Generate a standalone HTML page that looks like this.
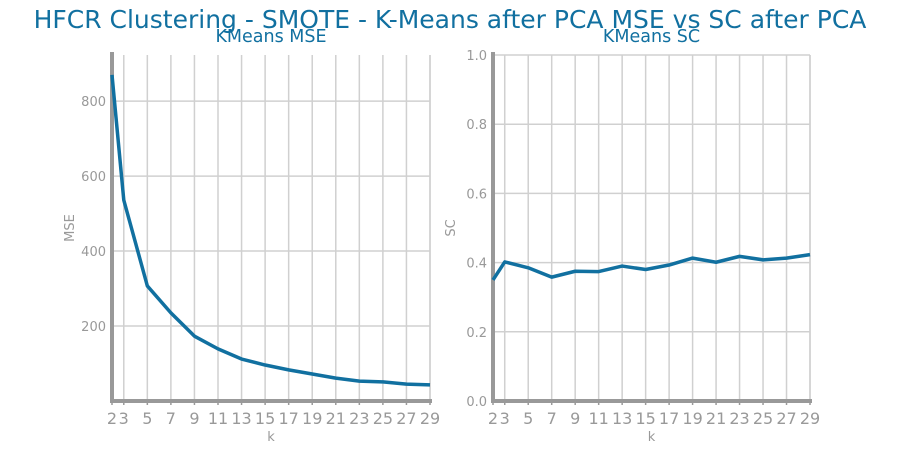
<!DOCTYPE html>
<html><head><meta charset="utf-8"><style>
body{margin:0;background:#fff;}
svg{display:block;font-family:"DejaVu Sans","Liberation Sans",sans-serif;}
</style></head><body>
<svg id="c" width="900" height="450">
<text x="450" y="28" text-anchor="middle" font-size="25" fill="#1170a0">HFCR Clustering - SMOTE - K-Means after PCA MSE vs SC after PCA</text>
</svg>
<script>
const kValues=[2,3,5,7,9,11,13,15,17,19,21,23,25,27,29];
const mseValues=[870,536,307,235,173,139,112,96,83,72,61,53,51,45,43];
const scValues=[0.35,0.402,0.385,0.358,0.375,0.374,0.39,0.38,0.393,0.413,0.401,0.418,0.408,0.413,0.423];
const xTicks=[2,3,5,7,9,11,13,15,17,19,21,23,25,27,29];
const mseTicks=[200,400,600,800];
const scTicks=[0.0,0.2,0.4,0.6,0.8,1.0];
const NS='http://www.w3.org/2000/svg';
const svg=document.getElementById('c');
function mk(t,a,p){const e=document.createElementNS(NS,t);for(const k in a)e.setAttribute(k,a[k]);(p||svg).appendChild(e);return e;}
function panel(o){
  const g=mk('g',{});
  
  
  const x=k=>o.x0+(k-2)/(27)*(o.x1-o.x0);
  const y=v=>o.y1-(v-o.ymin)/(o.ymax-o.ymin)*(o.y1-o.y0);
  xTicks.forEach(k=>{const l=mk('line',{x1:x(k),x2:x(k),y1:o.y0,y2:o.y1,stroke:'#d0d0d0','stroke-width':1.5},g);
    
    const t=mk('text',{x:x(k),y:o.y1+23,'text-anchor':'middle','font-size':16,fill:'#999'},g);t.textContent=k;
    
    mk('line',{x1:x(k),x2:x(k),y1:o.y1,y2:o.y1+4,stroke:'#999','stroke-width':1.5},g);});
  o.ticks.forEach(v=>{const l=mk('line',{x1:o.x0,x2:o.x1,y1:y(v),y2:y(v),stroke:'#d0d0d0','stroke-width':1.5},g);
    
    const t=mk('text',{x:o.x0-6,y:y(v)+5,'text-anchor':'end','font-size':13,fill:'#999'},g);t.textContent=o.fmt(v);
    });
  mk('line',{x1:o.x1,x2:o.x1,y1:o.y0,y2:o.y1,stroke:'#d0d0d0','stroke-width':1.5},g);
  const ax=mk('line',{x1:o.x0,x2:o.x0,y1:o.y0-3,y2:o.y1+2,stroke:'#999','stroke-width':4},g);
  
  const bx=mk('line',{x1:o.x0,x2:o.x1+2,y1:o.y1,y2:o.y1,stroke:'#999','stroke-width':4},g);
  
  const p=mk('polyline',{points:kValues.map((k,i)=>x(k)+','+y(o.data[i])).join(' '),fill:'none',stroke:'#1170a0','stroke-width':3.5,'stroke-linejoin':'round'},g);
  
  const tt=mk('text',{x:(o.x0+o.x1)/2,y:42,'text-anchor':'middle','font-size':17.5,fill:'#1170a0'},g);tt.textContent=o.title;
  
  const xl=mk('text',{x:(o.x0+o.x1)/2,y:441,'text-anchor':'middle','font-size':13,fill:'#999'},g);xl.textContent='k';
  
  const yl=mk('text',{x:o.x0-38,y:(o.y0+o.y1)/2,'text-anchor':'middle','font-size':13,fill:'#999',transform:`rotate(-90 ${o.x0-38} ${(o.y0+o.y1)/2})`},g);yl.textContent=o.ylab;
  
}
panel({name:'mse-panel',title:'KMeans MSE',ylab:'MSE',x0:112,x1:430,y0:55,y1:401,ymin:0,ymax:923,ticks:mseTicks,data:mseValues,fmt:v=>v});
panel({name:'sc-panel',title:'KMeans SC',ylab:'SC',x0:493,x1:810,y0:55,y1:401,ymin:0,ymax:1,ticks:scTicks,data:scValues,fmt:v=>v.toFixed(1)});
</script>
</body></html>
